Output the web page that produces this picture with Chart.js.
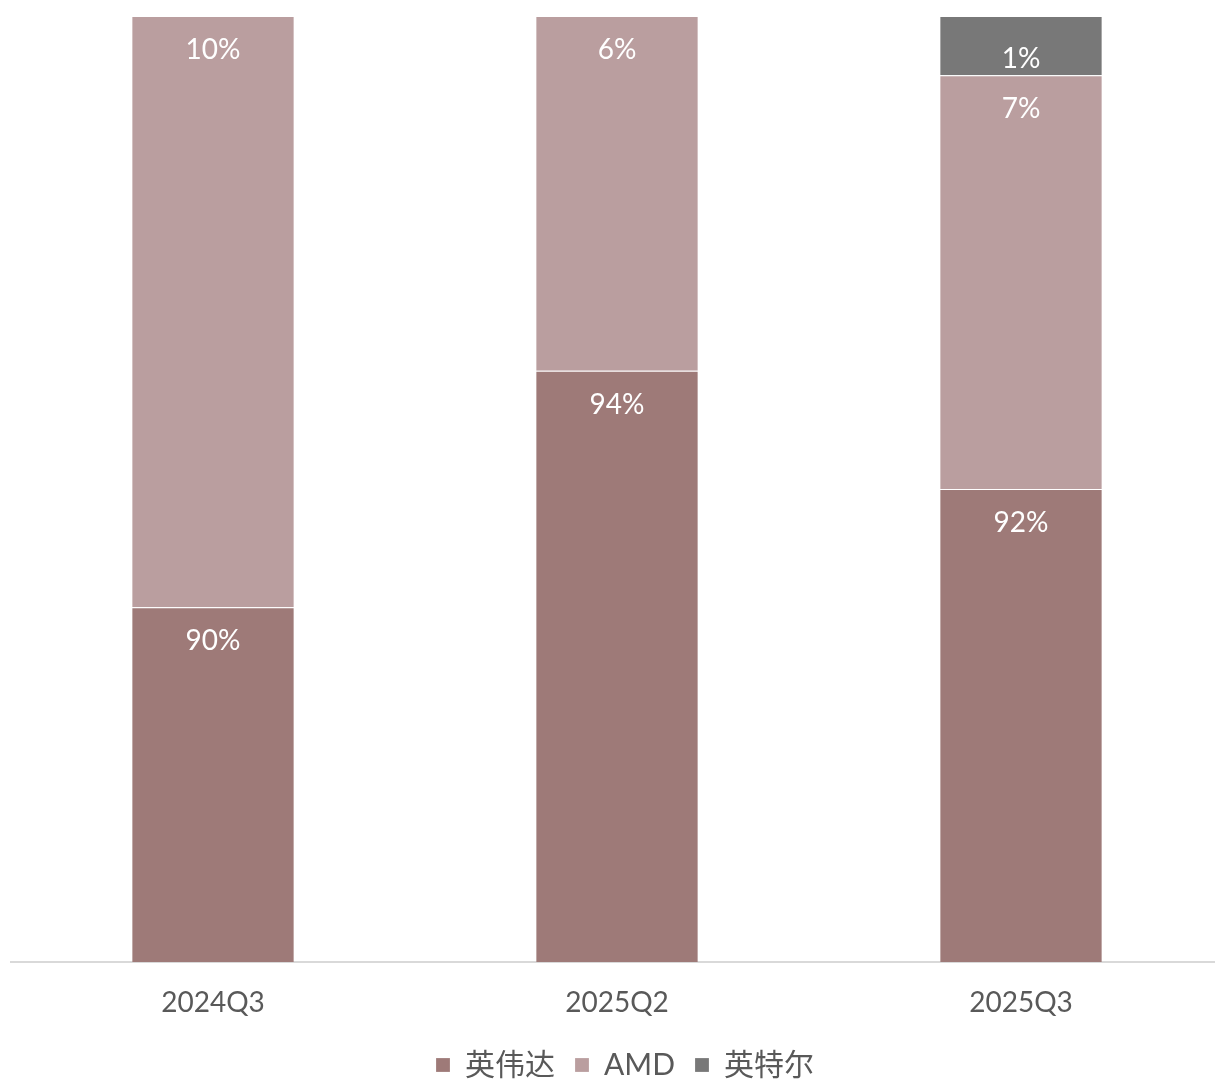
<!DOCTYPE html>
<html>
<head>
<meta charset="utf-8">
<script src="https://cdn.jsdelivr.net/npm/chart.js@4/dist/chart.umd.min.js"></script>
<style>
html,body{margin:0;padding:0;background:#fff;overflow:hidden;}
#wrap{width:1223px;height:1079px;}
</style>
</head>
<body>
<div id="wrap"><canvas id="c" width="1223" height="1079"></canvas></div>
<script>
// Categories
const categories = ['2024Q3', '2025Q2', '2025Q3'];
// Series names
const seriesNames = ['英伟达', 'AMD', '英特尔'];
// Segment heights as drawn in the picture (share of bar height, %)
const nvidiaBar = [37.5, 62.5, 50];
const amdBar = [62.5, 37.5, 43.75];
const intelBar = [0, 0, 6.25];
// Data label texts shown on each segment
const nvidiaLabels = ['90%', '94%', '92%'];
const amdLabels = ['10%', '6%', '7%'];
const intelLabels = ['', '', '1%'];
const colors = ['#9E7A78', '#BA9E9F', '#787878'];

const FONT = 'Lato, "Noto Sans CJK SC", sans-serif';
const labelSets = [nvidiaLabels, amdLabels, intelLabels];

const labelPlugin = {
  id: 'segLabels',
  afterDatasetsDraw(chart) {
    const ctx = chart.ctx;
    ctx.save();
    ctx.fillStyle = '#ffffff';
    ctx.font = '28px ' + FONT;
    ctx.textAlign = 'center';
    ctx.textBaseline = 'middle';
    chart.data.datasets.forEach((ds, di) => {
      const meta = chart.getDatasetMeta(di);
      meta.data.forEach((el, i) => {
        const txt = labelSets[di][i];
        if (!txt) return;
        const top = Math.min(el.y, el.base);
        const bottom = Math.max(el.y, el.base);
        let y = top + 34;
        if (bottom - top < 80) y = bottom - 16;
        ctx.fillText(txt, el.x, y);
      });
    });
    ctx.restore();
  }
};

const legendShift = {
  id: 'legendShift',
  afterLayout(chart) {
    if (chart.legend) {
      chart.legend.left += 8;
      chart.legend.right += 8;
    }
  }
};

const mk = (name, data, color) => ({
  label: name,
  data: data,
  backgroundColor: color,
  borderColor: 'rgba(255,255,255,0.8)',
  borderWidth: {top: 1, left: 0, right: 0, bottom: 0},
  borderSkipped: false,
  categoryPercentage: 1,
  barPercentage: 0.4
});

new Chart(document.getElementById('c'), {
  type: 'bar',
  data: {
    labels: categories,
    datasets: [
      mk(seriesNames[0], nvidiaBar, colors[0]),
      mk(seriesNames[1], amdBar, colors[1]),
      mk(seriesNames[2], intelBar, colors[2])
    ]
  },
  options: {
    responsive: false,
    animation: false,
    layout: {padding: {left: 11, right: 0, top: 16, bottom: -11}},
    plugins: {
      legend: {
        position: 'bottom',
        labels: {
          boxWidth: 14,
          boxHeight: 14,
          padding: 20,
          color: '#595959',
          font: {family: FONT, size: 30}
        }
      },
      tooltip: {enabled: false}
    },
    scales: {
      x: {
        stacked: true,
        grid: {display: false, drawTicks: false},
        border: {display: true, color: '#D9D9D9', width: 2},
        ticks: {color: '#595959', font: {family: FONT, size: 28}, padding: 24},
        afterFit: (scale) => { scale.height = 68; }
      },
      y: {
        stacked: true,
        display: false,
        min: 0,
        max: 100
      }
    }
  },
  plugins: [labelPlugin, legendShift]
});
</script>
</body>
</html>
